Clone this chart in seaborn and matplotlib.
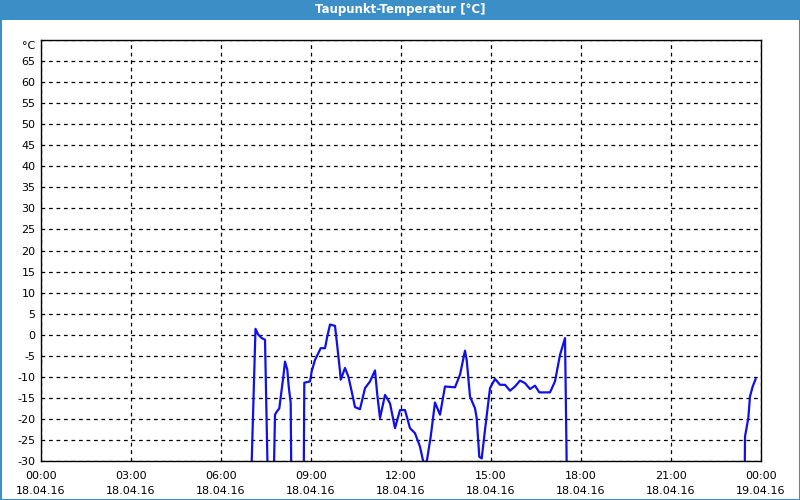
import numpy as np
import pandas as pd
import matplotlib
matplotlib.use("Agg")
import matplotlib.pyplot as plt
import matplotlib.transforms as mtransforms
from matplotlib.patches import Rectangle
from matplotlib.ticker import MultipleLocator
import seaborn as sns

# ---- data (hours after 18.04.16 00:00, dew point in °C; -31 = below visible range) ----
hours = [7.020, 7.150, 7.243, 7.357, 7.467, 7.550,
         7.767, 7.800, 7.857, 7.943, 8.023, 8.077, 8.133, 8.210, 8.257, 8.323, 8.340,
         8.760, 8.777, 8.967, 9.023, 9.133, 9.243, 9.323, 9.467, 9.543, 9.633, 9.800,
         9.877, 9.967, 9.990, 10.133, 10.243, 10.357, 10.467, 10.633, 10.800, 10.967,
         11.133, 11.210, 11.300, 11.467, 11.633, 11.800, 11.967, 12.133, 12.300, 12.467,
         12.633, 12.743, 12.857, 12.990, 13.133, 13.300, 13.467, 13.800, 13.967, 14.133,
         14.190, 14.300, 14.467, 14.523, 14.610, 14.690, 14.800, 14.967, 15.133, 15.300,
         15.467, 15.633, 15.800, 15.967, 16.133, 16.300, 16.467, 16.610, 16.967, 17.133,
         17.300, 17.467, 17.523,
         23.460, 23.467, 23.577, 23.633, 23.723, 23.823]
dewpoint = [-31, 1.4, 0.0, -0.8, -1.2, -31,
            -31, -19.0, -18.3, -17.5, -13.0, -10.0, -6.4, -8.3, -12.3, -16.2, -31,
            -31, -11.4, -11.1, -8.7, -6.0, -4.4, -3.2, -3.2, -0.4, 2.4, 2.1,
            -2.8, -8.7, -10.7, -7.9, -9.9, -13.5, -17.2, -17.7, -12.7, -11.1,
            -8.5, -14.3, -19.8, -14.3, -16.3, -22.2, -17.9, -17.9, -22.2, -23.4,
            -26.6, -30.2, -30.2, -24.2, -16.1, -19.0, -12.3, -12.5, -9.5, -3.8,
            -6.0, -14.7, -17.5, -19.8, -29.0, -29.4, -22.6, -12.7, -10.5, -11.9,
            -11.9, -13.3, -12.3, -10.9, -11.5, -12.9, -12.1, -13.7, -13.7, -11.1,
            -4.8, -0.8, -31,
            -31, -24.2, -19.8, -14.7, -12.3, -10.5]

x_ticks = [0, 3, 6, 9, 12, 15, 18, 21, 24]
x_labels = ["00:00\n18.04.16", "03:00\n18.04.16", "06:00\n18.04.16", "09:00\n18.04.16",
            "12:00\n18.04.16", "15:00\n18.04.16", "18:00\n18.04.16", "21:00\n18.04.16",
            "00:00\n19.04.16"]
y_ticks = list(range(-30, 70, 5)) + [70]
y_labels = [str(v) for v in range(-30, 70, 5)] + ["°C"]
title = "Taupunkt-Temperatur [°C]"

df = pd.DataFrame({"h": hours, "t": dewpoint})

sns.set_style("white")
plt.rcParams["font.family"] = ["DejaVu Sans"]

fig = plt.figure(figsize=(8, 5), dpi=100)
fig.patch.set_facecolor("white")
ax = fig.add_axes([41/800, 1 - 461/500, 720/800, 421/500])

sns.lineplot(data=df, x="h", y="t", ax=ax, sort=False, estimator=None,
             color="#1010e8", linewidth=1.6)

ax.set_xlim(0, 24)
ax.set_ylim(-30, 70)
ax.set_xticks(x_ticks)
ax.set_xticklabels(x_labels, fontsize=8, color="black", linespacing=1.6)
ax.xaxis.set_minor_locator(MultipleLocator(1))
ax.set_yticks(y_ticks)
ax.set_yticklabels(y_labels, fontsize=8, color="black")
ax.tick_params(axis="x", which="major", direction="out", length=4, width=1, pad=3, color="black")
ax.tick_params(axis="x", which="minor", direction="out", length=4, width=1, color="black")
ax.tick_params(axis="y", which="major", length=0, pad=4)
ax.set_xlabel("")
ax.set_ylabel("")
ax.grid(True, which="major", color="black", linestyle=(0, (3, 3)), linewidth=0.9)
for s in ax.spines.values():
    s.set_visible(True)
    s.set_color("black")
    s.set_linewidth(1)
ax.set_axisbelow(True)

# hide the grid line at the top tick (it coincides with the frame) and nudge the unit label down
ylabels_objs = ax.get_yticklabels()
unit_lbl = ylabels_objs[-1]
unit_lbl.set_transform(unit_lbl.get_transform() +
                       mtransforms.ScaledTranslation(0, -5/100, fig.dpi_scale_trans))

# title bar and frame
fig.patches.append(Rectangle((0, 1 - 20/500), 1, 20/500, transform=fig.transFigure,
                             facecolor="#3c8fc6", edgecolor="none", zorder=0))
fig.patches.append(Rectangle((0.5/800, 0.5/500), 799/800, 499/500, transform=fig.transFigure,
                             facecolor="none", edgecolor="#3c8fc6", linewidth=1.5, zorder=5))
fig.text(0.5, 1 - 10/500, title, ha="center", va="center", color="white",
         fontsize=8.5, fontweight="bold")

fig.savefig("out.png", dpi=100)
